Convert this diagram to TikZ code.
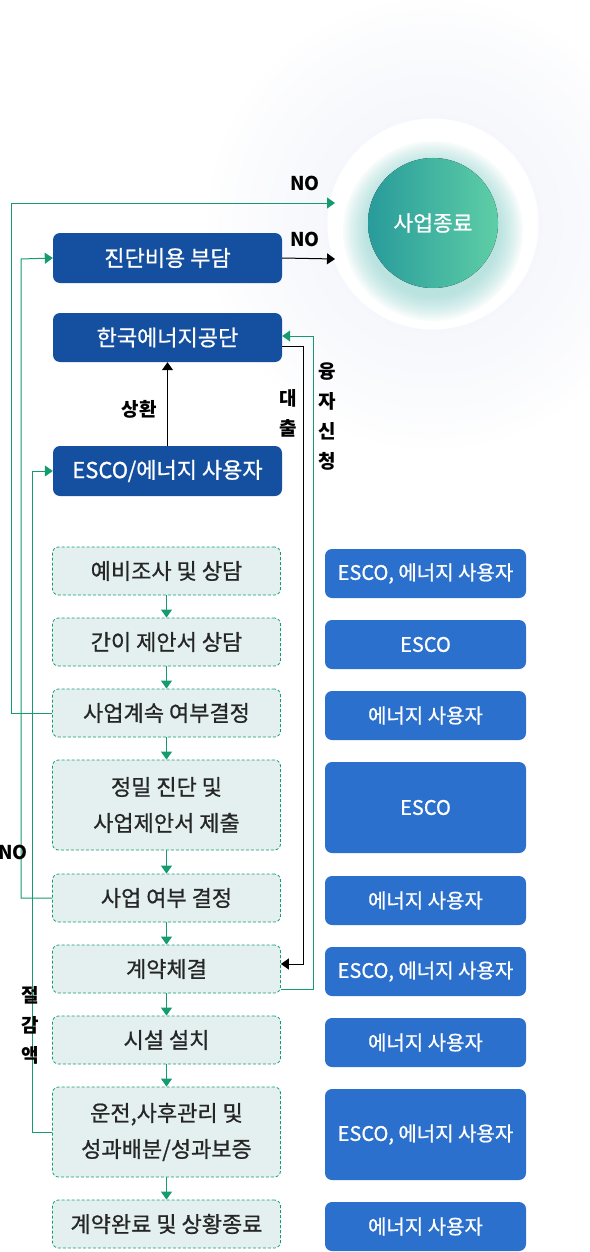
\documentclass[tikz,border=0pt]{standalone}
\usepackage{fontspec}
\setmainfont{Noto Sans CJK KR}
\newfontfamily\medium[FakeBold=0.8]{Noto Sans CJK KR}
\usetikzlibrary{arrows.meta,calc}
\definecolor{dblue}{RGB}{21,80,160}
\definecolor{mblue}{RGB}{44,112,205}
\definecolor{gline}{RGB}{20,155,112}
\definecolor{lfill}{RGB}{227,240,239}
\definecolor{tealL}{RGB}{40,155,155}
\definecolor{tealR}{RGB}{94,206,166}
\definecolor{halocol}{RGB}{228,231,246}
\definecolor{glowcol}{RGB}{150,215,212}
\tikzset{
  dbox/.style={rectangle, rounded corners=7pt, fill=dblue, text=white, minimum width=229pt, font=\medium\fontsize{22}{24}\selectfont, inner sep=0pt},
  rbox/.style={rectangle, rounded corners=7pt, fill=mblue, text=white, minimum width=201pt, font=\medium\fontsize{20}{24}\selectfont, inner sep=0pt},
  fbox/.style={rectangle, rounded corners=6pt, fill=lfill, draw=gline, dash pattern=on 3pt off 2pt, line width=0.8pt, minimum width=228pt, align=center, font=\medium\fontsize{22}{36}\selectfont, text=black!85, inner sep=0pt},
  gl/.style={draw=gline, line width=1pt},
  bl/.style={draw=black, line width=1pt},
  gtip/.style={-{Triangle[width=11pt,length=8pt]}},
  lab/.style={font=\fontsize{19}{30}\selectfont\bfseries, text=black, align=center, inner sep=0pt},
  halostep/.style={fill=halocol, fill opacity=0.014},
  glowstep/.style={fill=glowcol, fill opacity=0.07},
}
\begin{document}
\begin{tikzpicture}[x=1pt,y=-1pt]
\useasboundingbox (0,0) rectangle (589,1252);
% circle with halo
\foreach \r in {230,225,...,110} \fill[halostep] (433,224) circle (\r);
\fill[white] (433,224) circle (105.5);
\foreach \r in {90,88,...,66} \fill[glowstep] (433,231) circle (\r);
\fill[left color=tealL, right color=tealR] (433,223) circle (65);
\node[text=white, font=\medium\fontsize{21.5}{24}\selectfont] (end) at (433,223) {사업종료};
\coordinate (no1) at (335,203);
\coordinate (no2) at (335,259);
% top boxes
\node[dbox, minimum height=50pt] (cost) at (167.5,258) {진단비용 부담};
\node[dbox, minimum height=49pt] (kemco) at (167.5,337.5) {한국에너지공단};
\node[dbox, minimum height=50pt] (esco) at (167.5,471) {ESCO/에너지 사용자};
% flow boxes
\node[fbox, minimum height=48pt] (s1) at (166.5,571) {예비조사 및 상담};
\node[fbox, minimum height=48pt] (s2) at (166.5,642) {간이 제안서 상담};
\node[fbox, minimum height=48pt] (s3) at (166.5,713) {사업계속 여부결정};
\node[fbox, minimum height=90pt] (s4) at (166.5,805) {정밀 진단 및\\사업제안서 제출};
\node[fbox, minimum height=48pt] (s5) at (166.5,898) {사업 여부 결정};
\node[fbox, minimum height=48pt] (s6) at (166.5,969) {계약체결};
\node[fbox, minimum height=48pt] (s7) at (166.5,1040) {시설 설치};
\node[fbox, minimum height=90pt] (s8) at (166.5,1132) {운전,사후관리 및\\성과배분/성과보증};
\node[fbox, minimum height=48pt] (s9) at (166.5,1224) {계약완료 및 상황종료};
% right boxes
\node[rbox, minimum height=49pt] (r1) at (425.5,573.5) {ESCO, 에너지 사용자};
\node[rbox, minimum height=49pt] (r2) at (425.5,644.5) {ESCO};
\node[rbox, minimum height=49pt] (r3) at (425.5,715.5) {에너지 사용자};
\node[rbox, minimum height=91pt] (r4) at (425.5,807.5) {ESCO};
\node[rbox, minimum height=49pt] (r5) at (425.5,900.5) {에너지 사용자};
\node[rbox, minimum height=49pt] (r6) at (425.5,971.5) {ESCO, 에너지 사용자};
\node[rbox, minimum height=49pt] (r7) at (425.5,1042.5) {에너지 사용자};
\node[rbox, minimum height=91pt] (r8) at (425.5,1134.5) {ESCO, 에너지 사용자};
\node[rbox, minimum height=49pt] (r9) at (425.5,1226.5) {에너지 사용자};
% flow arrows
\foreach \a/\b in {s1/s2,s2/s3,s3/s4,s4/s5,s5/s6,s6/s7,s7/s8,s8/s9}
  \draw[gl, gtip] (\a.south) -- (\b.north);
% left loops
\coordinate (L1) at (11,203);
\coordinate (L2) at (21,259);
\coordinate (L3) at (32,471);
\draw[gl, gtip] (s3.west) -| (L1) -- (no1);
\draw[gl, gtip] (s5.west) -| (L2) -- (cost.west);
\draw[gl, gtip] (s8.west) -| (L3) -- (esco.west);
% black arrows
\draw[bl, gtip] (cost.east) -- (no2);
\draw[bl, gtip] (esco.north) -- (kemco.south);
% loan / application
\coordinate (R1) at (303,964);
\coordinate (R2) at (313,336);
\draw[bl, gtip] ([yshift=-8.5pt]kemco.east) -| (R1) -- ([yshift=5pt]s6.east);
\draw[gl, gtip] ([yshift=-20pt]s6.east) -| (R2) -- ([yshift=1.5pt]kemco.east);
% labels
\node[lab] (noA) at (305,183) {NO};
\node[lab] (noB) at (305,239) {NO};
\node[lab] (noC) at (13,852) {NO};
\node[lab] (rep) at (139,409) {상환};
\node[lab] (loan) at (288,413) {대\\출};
\node[lab] (appl) at (327,417) {융\\자\\신\\청};
\node[lab] (sav) at (30,1025) {절\\감\\액};
\end{tikzpicture}
\end{document}
